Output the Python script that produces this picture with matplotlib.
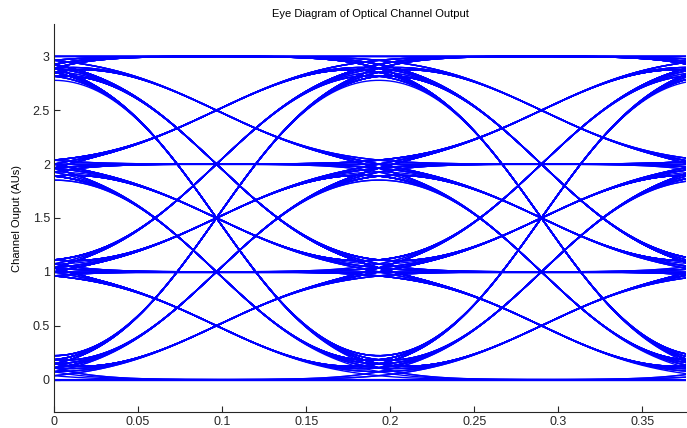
import math
import numpy as np
import matplotlib
matplotlib.use('Agg')
import matplotlib.pyplot as plt

# transmitted 4-level symbols (0..3), one digit per symbol
symbols = ("3102230133120203213001322310321230311002331201223013302112031023"
           "0000012331022133011203221330120311230213301222223101320231103321"
           "1111102330213120321103122033102301213330201132021330310223011203"
           "3333320110322301312023103321012302113320310220133102312021033012"
           "2103301221303102331200213032112303012233101320312022130331102130")
T_sym = 0.1933          # symbol period (x units)
sigma = 0.28 * T_sym    # width of channel low-pass (gaussian) response
x_ticks = [0, 0.05, 0.1, 0.15, 0.2, 0.25, 0.3, 0.35]
x_ticklabels = ['0', '0.05', '0.1', '0.15', '0.2', '0.25', '0.3', '0.35']
y_ticks = [0, 0.5, 1, 1.5, 2, 2.5, 3]
y_ticklabels = ['0', '0.5', '1', '1.5', '2', '2.5', '3']
x_max = 0.376

plt.rcParams['font.family'] = ['Liberation Sans', 'DejaVu Sans']

a = np.array([int(c) for c in symbols], dtype=float)
ns = 200
dt = T_sym / ns
t = np.arange(len(a) * ns) * dt
erf = np.vectorize(math.erf)

def pulse(tt):
    # NRZ rectangle filtered by gaussian channel
    s = np.sqrt(2) * sigma
    return 0.5 * (erf((tt + T_sym / 2) / s) - erf((tt - T_sym / 2) / s))

y = np.zeros_like(t)
for k, ak in enumerate(a):
    lo = max(0, (k - 3) * ns)
    hi = min(len(t), (k + 4) * ns)
    y[lo:hi] += ak * pulse(t[lo:hi] - k * T_sym)

npts = int(round(x_max / dt)) + 1
xs = np.arange(npts) * dt
traces = np.array([y[k * ns:k * ns + npts] for k in range(3, len(a) - 4)]).T

fig = plt.figure(figsize=(6.87, 4.28), dpi=100)
ax = fig.add_axes([54 / 687, 1 - 412 / 428, 632 / 687, 388 / 428])
ax.plot(xs, traces, color='b', lw=1.0)

ax.set_xlim(0, x_max)
ax.set_ylim(-0.3, 3.3)
ax.set_xticks(x_ticks)
ax.set_xticklabels(x_ticklabels)
ax.set_yticks(y_ticks)
ax.set_yticklabels(y_ticklabels)
ax.spines['top'].set_visible(False)
ax.spines['right'].set_visible(False)
ax.tick_params(direction='in', length=4, labelsize=9, colors='#262626', pad=3)
ax.spines['left'].set_color('#262626')
ax.spines['bottom'].set_color('#262626')
ax.set_ylabel('Channel Ouput (AUs)', fontsize=8)
ax.yaxis.set_label_coords(-0.05, 0.5)
ax.set_title('Eye Diagram of Optical Channel Output', fontsize=8, pad=5)

fig.savefig('out.png', dpi=100)
